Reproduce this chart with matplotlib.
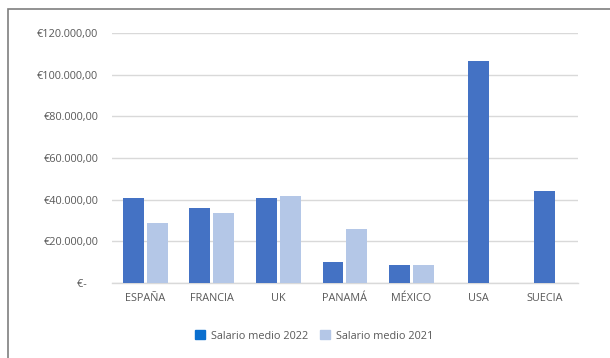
import matplotlib.pyplot as plt
import numpy as np
from matplotlib.patches import Patch, Rectangle

# ── DATA ──
COUNTRIES = ["ESPAÑA", "FRANCIA", "UK", "PANAMÁ", "MÉXICO", "USA", "SUECIA"]
SALARY_2022 = [40800, 36000, 40800, 10100, 8650, 106500, 44200]
SALARY_2021 = [28800, 33600, 41800, 25900, 8650, None, None]
Y_TICKS = [0, 20000, 40000, 60000, 80000, 100000, 120000]
SERIES_LABELS = ["Salario medio 2022", "Salario medio 2021"]

# ── STYLE ──
C_2022 = "#4472C4"
C_2021 = "#B4C7E7"
C_LEG_2022 = "#0A6FCF"
GRID = "#D9D9D9"
TXT = "#595959"
plt.rcParams["font.family"] = ["Open Sans", "DejaVu Sans"]


def euro(v):
    if v == 0:
        return "€-    "
    s = f"{v:,.2f}".replace(",", "X").replace(".", ",").replace("X", ".")
    return "€" + s


fig = plt.figure(figsize=(6.1, 3.58), dpi=100)
ax = fig.add_axes([0.1836, 0.2095, 0.7639, 0.6983])

x = np.arange(len(COUNTRIES))
w = 0.315
gap = 0.045
for i in x:
    v22, v21 = SALARY_2022[i], SALARY_2021[i]
    if v21 is None:
        ax.bar(i, v22, width=w, color=C_2022, zorder=3)
    else:
        ax.bar(i - (w + gap) / 2, v22, width=w, color=C_2022, zorder=3)
        ax.bar(i + (w + gap) / 2, v21, width=w, color=C_2021, zorder=3)

ax.set_xlim(-0.5, len(COUNTRIES) - 0.5)
ax.set_ylim(0, 120000)
ax.set_yticks(Y_TICKS)
ax.set_yticklabels([euro(v) for v in Y_TICKS])
ax.set_xticks(x)
ax.set_xticklabels(COUNTRIES)
ax.tick_params(axis="both", length=0, colors=TXT, labelsize=7.8)
ax.tick_params(axis="y", pad=10)
ax.tick_params(axis="x", pad=7)
ax.yaxis.grid(True, color=GRID, linewidth=1.0, zorder=0)
for s in ["top", "right", "left"]:
    ax.spines[s].set_visible(False)
ax.spines["bottom"].set_color(GRID)
ax.spines["bottom"].set_linewidth(1.0)

handles = [Patch(color=C_LEG_2022), Patch(color=C_2021)]
fig.legend(handles, SERIES_LABELS, loc="center", bbox_to_anchor=(0.515, 0.062),
           ncol=2, frameon=False, fontsize=7.8, labelcolor=TXT,
           handlelength=0.95, handleheight=0.95, handletextpad=0.55, columnspacing=1.1)

# outer chart frame
fig.patches.append(Rectangle((8 / 610, -0.05), 1.1, 1 - 9 / 358 + 0.05,
                             transform=fig.transFigure, fill=False,
                             edgecolor="#7F7F7F", linewidth=1.2))

fig.savefig("out.png", dpi=100)
